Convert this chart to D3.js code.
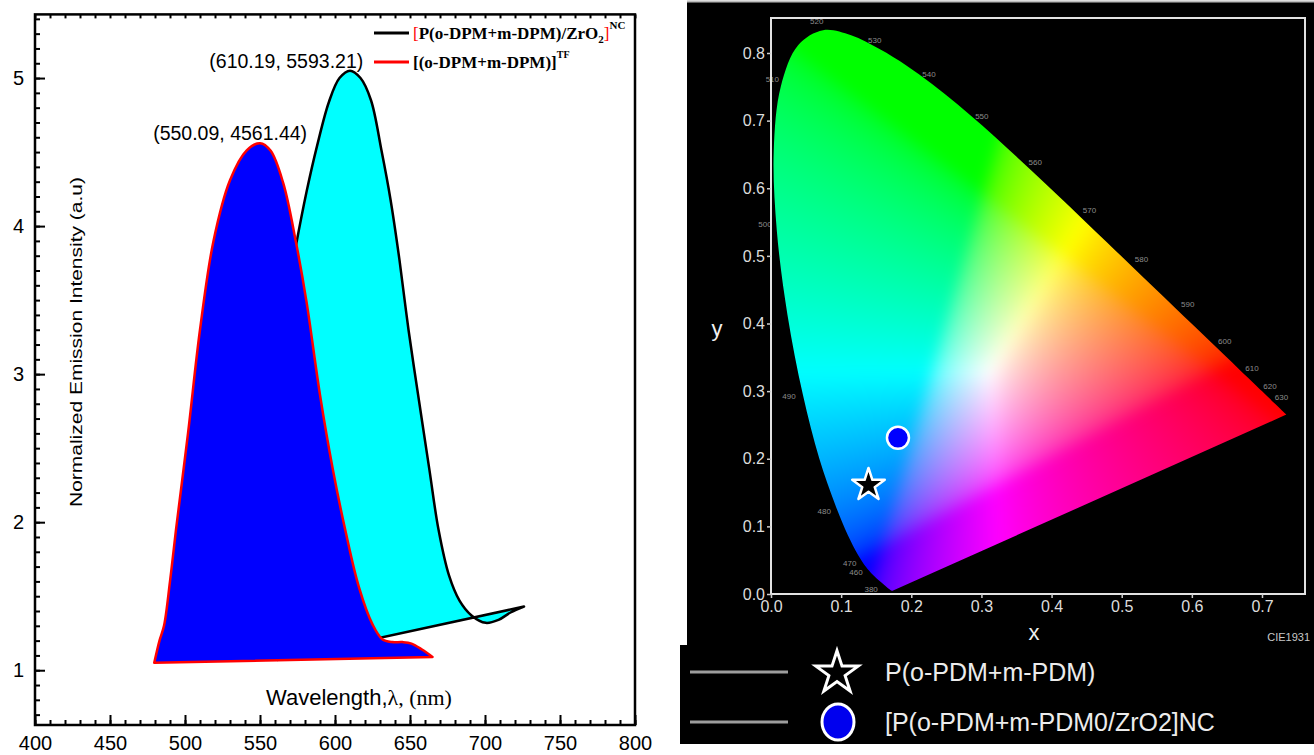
<!DOCTYPE html>
<html>
<head>
<meta charset="utf-8">
<script src="https://cdnjs.cloudflare.com/ajax/libs/d3/7.8.5/d3.min.js"></script>
<style>
  body { margin: 0; background: #fff; }
  svg { display: block; }
</style>
</head>
<body>
<div id="vis"></div>
<script>
var width = 1314,
    height = 755;

// ---- left panel: emission spectra (wavelength nm, normalized intensity)
var nmTF  = [479.5, 483, 486, 490, 494, 502, 510, 519, 530, 541, 550, 557, 565.5, 574, 581, 590, 598.5, 607, 616, 625, 631.5, 638, 645, 651, 658, 665];
var intTF = [1.05, 1.2, 1.3, 1.6, 1.95, 2.6, 3.3, 3.9, 4.31, 4.51, 4.56, 4.51, 4.29, 3.89, 3.49, 2.86, 2.36, 1.94, 1.56, 1.31, 1.21, 1.19, 1.19, 1.18, 1.14, 1.09];

var nmNC  = [562, 560, 567, 574, 581, 588, 596, 603, 610, 617, 624, 631, 637, 643, 649, 656, 663, 669, 676, 683, 691, 700.5, 709, 717, 726];
var intNC = [1.07, 3.08, 3.47, 3.87, 4.23, 4.54, 4.84, 5.0, 5.05, 5.0, 4.85, 4.51, 4.18, 3.77, 3.30, 2.82, 2.35, 1.95, 1.64, 1.47, 1.37, 1.32, 1.34, 1.39, 1.43];

var peakText = ["(610.19, 5593.21)", "(550.09, 4561.44)"];
var peakNm   = [610.19, 550.09];
var peakInt  = [5.05, 4.56];

var xTicksMajor = [400, 450, 500, 550, 600, 650, 700, 750, 800];
var yTicksMajor = [1, 2, 3, 4, 5];

// ---- right panel: CIE 1931 spectral locus
var locusNm = [380, 390, 400, 410, 420, 430, 440, 450, 460, 465, 470, 475, 480, 485, 490, 495, 500, 505, 510, 515, 520, 525, 530, 535, 540, 545, 550, 555, 560, 565, 570, 575, 580, 585, 590, 595, 600, 605, 610, 615, 620, 625, 630, 640, 650, 660, 680, 700];
var locusX = [0.1741, 0.1738, 0.1733, 0.1726, 0.1714, 0.1689, 0.1644, 0.1566, 0.1440, 0.1355, 0.1241, 0.1096, 0.0913, 0.0687, 0.0454, 0.0235, 0.0082, 0.0039, 0.0139, 0.0389, 0.0743, 0.1142, 0.1547, 0.1929, 0.2296, 0.2658, 0.3016, 0.3373, 0.3731, 0.4087, 0.4441, 0.4788, 0.5125, 0.5448, 0.5752, 0.6029, 0.6270, 0.6482, 0.6658, 0.6801, 0.6915, 0.7006, 0.7079, 0.7190, 0.7260, 0.7300, 0.7334, 0.7347];
var locusY = [0.0050, 0.0049, 0.0048, 0.0048, 0.0051, 0.0069, 0.0109, 0.0177, 0.0297, 0.0399, 0.0578, 0.0868, 0.1327, 0.2007, 0.2950, 0.4127, 0.5384, 0.6548, 0.7502, 0.8120, 0.8338, 0.8262, 0.8059, 0.7816, 0.7543, 0.7243, 0.6923, 0.6589, 0.6245, 0.5896, 0.5547, 0.5202, 0.4866, 0.4544, 0.4242, 0.3965, 0.3725, 0.3514, 0.3340, 0.3197, 0.3083, 0.2993, 0.2920, 0.2809, 0.2740, 0.2700, 0.2666, 0.2653];
var locusLabels = [380, 460, 470, 480, 490, 500, 510, 520, 530, 540, 550, 560, 570, 580, 590, 600, 610, 620, 630];

var cieTicksX = [0, 0.1, 0.2, 0.3, 0.4, 0.5, 0.6, 0.7];
var cieTicksY = [0, 0.1, 0.2, 0.3, 0.4, 0.5, 0.6, 0.7, 0.8];

var sampleNames = ["P(o-PDM+m-PDM)", "[P(o-PDM+m-PDM0/ZrO2]NC"];
var sampleCx = [0.139, 0.181];
var sampleCy = [0.161, 0.231];

var svg = d3.select("#vis").append("svg")
    .attr("width", width)
    .attr("height", height);

// ================= LEFT PANEL =================
var x = d3.scaleLinear().domain([400, 800]).range([35, 635]);
var y = d3.scaleLinear().domain([0.63, 5.43]).range([725, 14.4]);

var line = d3.line()
    .x(function(d) { return x(d[0]); })
    .y(function(d) { return y(d[1]); })
    .curve(d3.curveCatmullRom.alpha(0.5));

var ncPts = nmNC.map(function(d, i) { return [d, intNC[i]]; });
var tfPts = nmTF.map(function(d, i) { return [d, intTF[i]]; });

svg.append("path")
    .attr("d", line(ncPts) + "Z")
    .attr("fill", "#00ffff")
    .attr("stroke", "#000")
    .attr("stroke-width", 2.5)
    .attr("stroke-linejoin", "round");

svg.append("path")
    .attr("d", line(tfPts) + "Z")
    .attr("fill", "#0000ff")
    .attr("stroke", "#ff0000")
    .attr("stroke-width", 2.5)
    .attr("stroke-linejoin", "round");

// axes
var left = svg.append("g").attr("class", "left-axes");

var xMinor = d3.range(400, 801, 10);
var yMinor = d3.range(7, 55, 1).map(function(d) { return d / 10; });

left.append("g")
    .attr("transform", "translate(0," + y.range()[0] + ")")
    .call(d3.axisBottom(x).tickValues(xMinor).tickSize(-5).tickFormat(""));
left.append("g")
    .attr("transform", "translate(0," + y.range()[0] + ")")
    .call(d3.axisBottom(x).tickValues(xTicksMajor).tickSize(-10).tickPadding(11).tickFormat(d3.format("d")));
left.append("g")
    .attr("transform", "translate(0," + y.range()[1] + ")")
    .call(d3.axisTop(x).tickValues(xMinor).tickSize(-4).tickFormat(""));
left.append("g")
    .attr("transform", "translate(" + x.range()[0] + ",0)")
    .call(d3.axisLeft(y).tickValues(yMinor).tickSize(-5).tickFormat(""));
left.append("g")
    .attr("transform", "translate(" + x.range()[0] + ",0)")
    .call(d3.axisLeft(y).tickValues(yTicksMajor).tickSize(-10).tickPadding(11).tickFormat(d3.format("d")));

left.selectAll(".domain").remove();
left.selectAll(".tick line").attr("stroke", "#000").attr("stroke-width", 2);
left.selectAll(".tick text").attr("font-size", 20).attr("fill", "#000").attr("font-family", "'Liberation Sans', Arial, sans-serif");

svg.append("rect")
    .attr("x", x.range()[0]).attr("y", y.range()[1])
    .attr("width", x.range()[1] - x.range()[0])
    .attr("height", y.range()[0] - y.range()[1])
    .attr("fill", "none").attr("stroke", "#000").attr("stroke-width", 2.5);

// axis titles
svg.append("text")
    .attr("transform", "translate(82,342) rotate(-90)")
    .attr("text-anchor", "middle")
    .attr("font-family", "'Liberation Sans', Arial, sans-serif")
    .attr("font-size", 16.5)
    .attr("textLength", 330)
    .attr("lengthAdjust", "spacingAndGlyphs")
    .text("Normalized Emission Intensity (a.u)");

var xt = svg.append("text")
    .attr("x", 359).attr("y", 705)
    .attr("text-anchor", "middle")
    .attr("font-size", 22);
xt.append("tspan").attr("font-family", "'Liberation Sans', Arial, sans-serif").text("Wavelength,");
xt.append("tspan").attr("font-family", "'Liberation Serif', 'Times New Roman', serif").text("\u03bb, (nm)");

// peak annotations
var peakDx = [-64, -30];
svg.selectAll("text.peak")
    .data(peakText)
    .enter().append("text")
    .attr("class", "peak")
    .attr("x", function(d, i) { return x(peakNm[i]) + peakDx[i]; })
    .attr("y", function(d, i) { return y(peakInt[i]) - 3; })
    .attr("text-anchor", "middle")
    .attr("font-family", "'Liberation Sans', Arial, sans-serif")
    .attr("font-size", 19.5)
    .text(function(d) { return d; });

// legend
var leg = svg.append("g")
    .attr("font-family", "'Liberation Serif', 'Times New Roman', serif")
    .attr("font-weight", "bold")
    .attr("font-size", 17);
leg.append("line").attr("x1", 374).attr("x2", 409).attr("y1", 33).attr("y2", 33)
    .attr("stroke", "#000").attr("stroke-width", 3);
var t1 = leg.append("text").attr("x", 413).attr("y", 39);
t1.append("tspan").attr("fill", "#ff0000").attr("font-weight", "normal").text("[");
t1.append("tspan").text("P(o-DPM+m-DPM)/ZrO");
t1.append("tspan").attr("font-size", 11).attr("dy", 4).text("2");
t1.append("tspan").attr("fill", "#ff0000").attr("font-weight", "normal").attr("dy", -4).text("]");
t1.append("tspan").attr("font-size", 11).attr("dy", -10).text("NC");

leg.append("line").attr("x1", 374).attr("x2", 409).attr("y1", 62).attr("y2", 62)
    .attr("stroke", "#ff0000").attr("stroke-width", 3);
var t2 = leg.append("text").attr("x", 413).attr("y", 68);
t2.append("tspan").text("[(o-DPM+m-DPM)]");
t2.append("tspan").attr("font-size", 10).attr("dy", -10).text("TF");

// ================= RIGHT PANEL =================
svg.append("rect").attr("x", 687).attr("y", 2).attr("width", width - 687).attr("height", 742).attr("fill", "#000");
svg.append("rect").attr("x", 680).attr("y", 645).attr("width", 10).attr("height", 99).attr("fill", "#000");
svg.append("line").attr("x1", 687).attr("x2", width).attr("y1", 1.5).attr("y2", 1.5)
    .attr("stroke", "#bbb").attr("stroke-width", 2);

var cx = d3.scaleLinear().domain([0, 0.7]).range([771, 1262]);
var cy = d3.scaleLinear().domain([0, 0.8]).range([594, 53]);

var locusPts = locusNm.map(function(d, i) { return [locusX[i], locusY[i]]; });
var locusLine = d3.line()
    .x(function(d) { return cx(d[0]); })
    .y(function(d) { return cy(d[1]); })
    .curve(d3.curveCatmullRom.alpha(0.5));

svg.append("clipPath").attr("id", "locus")
  .append("path").attr("d", locusLine(locusPts) + "Z");

// colour the chromaticity plane pixel by pixel, then soften the gamut seams
var gx0 = Math.floor(cx(-0.05)), gx1 = Math.ceil(cx(0.8)),
    gy0 = Math.floor(cy(0.9)), gy1 = Math.ceil(cy(-0.05));
var cw = gx1 - gx0, ch = gy1 - gy0;
var raw = document.createElement("canvas");
raw.width = cw; raw.height = ch;
var rctx = raw.getContext("2d");
var img = rctx.createImageData(cw, ch);

function gam(v) {
  return v <= 0.0031308 ? 12.92 * v : 1.055 * Math.pow(v, 1 / 2.4) - 0.055;
}

for (var j = 0; j < ch; j++) {
  for (var i = 0; i < cw; i++) {
    var px = Math.min(Math.max(cx.invert(gx0 + i + 0.5), 0.003), 0.74),
        py = Math.max(cy.invert(gy0 + j + 0.5), 0.004);
    var X = px / py, Y = 1, Z = Math.max(1 - px - py, 0) / py;
    var r = 3.2406 * X - 1.5372 * Y - 0.4986 * Z,
        g = -0.9689 * X + 1.8758 * Y + 0.0415 * Z,
        b = 0.0557 * X - 0.2040 * Y + 1.0570 * Z;
    r = Math.max(r, 0); g = Math.max(g, 0); b = Math.max(b, 0);
    var m = Math.max(r, g, b) || 1;
    var k = (j * cw + i) * 4;
    img.data[k] = Math.round(255 * gam(r / m));
    img.data[k + 1] = Math.round(255 * gam(g / m));
    img.data[k + 2] = Math.round(255 * gam(b / m));
    img.data[k + 3] = 255;
  }
}
rctx.putImageData(img, 0, 0);

var soft = document.createElement("canvas");
soft.width = cw; soft.height = ch;
var sctx = soft.getContext("2d");
sctx.filter = "blur(7px)";
sctx.drawImage(raw, 0, 0);

svg.append("image")
    .attr("x", gx0).attr("y", gy0)
    .attr("width", cw).attr("height", ch)
    .attr("href", soft.toDataURL())
    .attr("clip-path", "url(#locus)");

// wavelength labels on the locus
var wp = [0.32, 0.33];
svg.selectAll("text.nm")
    .data(locusLabels)
    .enter().append("text")
    .attr("class", "nm")
    .attr("transform", function(d) {
      var i = locusNm.indexOf(d);
      var px = cx(locusX[i]), py = cy(locusY[i]);
      if (locusY[i] < 0.01) return "translate(" + (px - 22) + "," + (py + 1) + ")";
      if (locusY[i] < 0.04) return "translate(" + (px - 16) + "," + (py + 1) + ")";
      var dx = px - cx(wp[0]), dy = py - cy(wp[1]);
      var len = Math.sqrt(dx * dx + dy * dy);
      return "translate(" + (px + dx / len * 14) + "," + (py + dy / len * 10 + 3) + ")";
    })
    .attr("text-anchor", "middle")
    .attr("font-family", "'Liberation Sans', Arial, sans-serif")
    .attr("font-size", 8)
    .attr("fill", "#8c8c8c")
    .text(function(d) { return d; });

// frame + axes
svg.append("rect")
    .attr("x", cx(0)).attr("y", 18)
    .attr("width", 1305 - cx(0)).attr("height", cy(0) - 18)
    .attr("fill", "none").attr("stroke", "#e2e2e2").attr("stroke-width", 2);

var right = svg.append("g").attr("class", "right-axes");
right.append("g")
    .attr("transform", "translate(0," + cy(0) + ")")
    .call(d3.axisBottom(cx).tickValues(cieTicksX).tickSize(4).tickPadding(3).tickFormat(d3.format(".1f")));
right.append("g")
    .attr("transform", "translate(" + cx(0) + ",0)")
    .call(d3.axisLeft(cy).tickValues(cieTicksY).tickSize(4).tickPadding(2).tickFormat(d3.format(".1f")));
right.selectAll(".domain").remove();
right.selectAll(".tick line").attr("stroke", "#ccc").attr("stroke-width", 1.5);
right.selectAll(".tick text")
    .attr("fill", "#dcdcdc")
    .attr("font-size", 16)
    .attr("font-family", "'Liberation Sans', Arial, sans-serif");

svg.append("text").attr("x", 1034).attr("y", 640)
    .attr("text-anchor", "middle").attr("fill", "#f0f0f0")
    .attr("font-family", "'Liberation Sans', Arial, sans-serif").attr("font-size", 22)
    .text("x");
svg.append("text").attr("x", 717).attr("y", 336)
    .attr("text-anchor", "middle").attr("fill", "#f0f0f0")
    .attr("font-family", "'Liberation Sans', Arial, sans-serif").attr("font-size", 22)
    .text("y");
svg.append("text").attr("x", 1310).attr("y", 641)
    .attr("text-anchor", "end").attr("fill", "#c8c8c8")
    .attr("font-family", "'Liberation Sans', Arial, sans-serif").attr("font-size", 11)
    .text("CIE1931");

// sample points
var star = d3.symbol().type(d3.symbolStar);
svg.append("path")
    .attr("d", star.size(330)())
    .attr("transform", "translate(" + cx(sampleCx[0]) + "," + cy(sampleCy[0]) + ")")
    .attr("fill", "#000").attr("stroke", "#fff").attr("stroke-width", 2.5).attr("stroke-linejoin", "round");
svg.append("circle")
    .attr("cx", cx(sampleCx[1])).attr("cy", cy(sampleCy[1])).attr("r", 11)
    .attr("fill", "#0000ff").attr("stroke", "#fff").attr("stroke-width", 2.5);

// bottom legend
var rowY = [672, 722];
var lg = svg.append("g").attr("font-family", "'Liberation Sans', Arial, sans-serif");
lg.selectAll("line")
    .data(sampleNames)
    .enter().append("line")
    .attr("x1", 690).attr("x2", 788)
    .attr("y1", function(d, i) { return rowY[i]; })
    .attr("y2", function(d, i) { return rowY[i]; })
    .attr("stroke", "#9d9d9d").attr("stroke-width", 3);
lg.append("path")
    .attr("d", star.size(560)())
    .attr("transform", "translate(837," + (rowY[0] + 1) + ")")
    .attr("fill", "#000").attr("stroke", "#fff").attr("stroke-width", 3).attr("stroke-linejoin", "miter");
lg.append("ellipse")
    .attr("cx", 838).attr("cy", rowY[1]).attr("rx", 16).attr("ry", 18)
    .attr("fill", "#0000ee").attr("stroke", "#fff").attr("stroke-width", 3);
lg.selectAll("text")
    .data(sampleNames)
    .enter().append("text")
    .attr("x", 885)
    .attr("y", function(d, i) { return rowY[i] + 9; })
    .attr("fill", "#ececec")
    .attr("font-size", 25)
    .text(function(d) { return d; });
</script>
</body>
</html>
